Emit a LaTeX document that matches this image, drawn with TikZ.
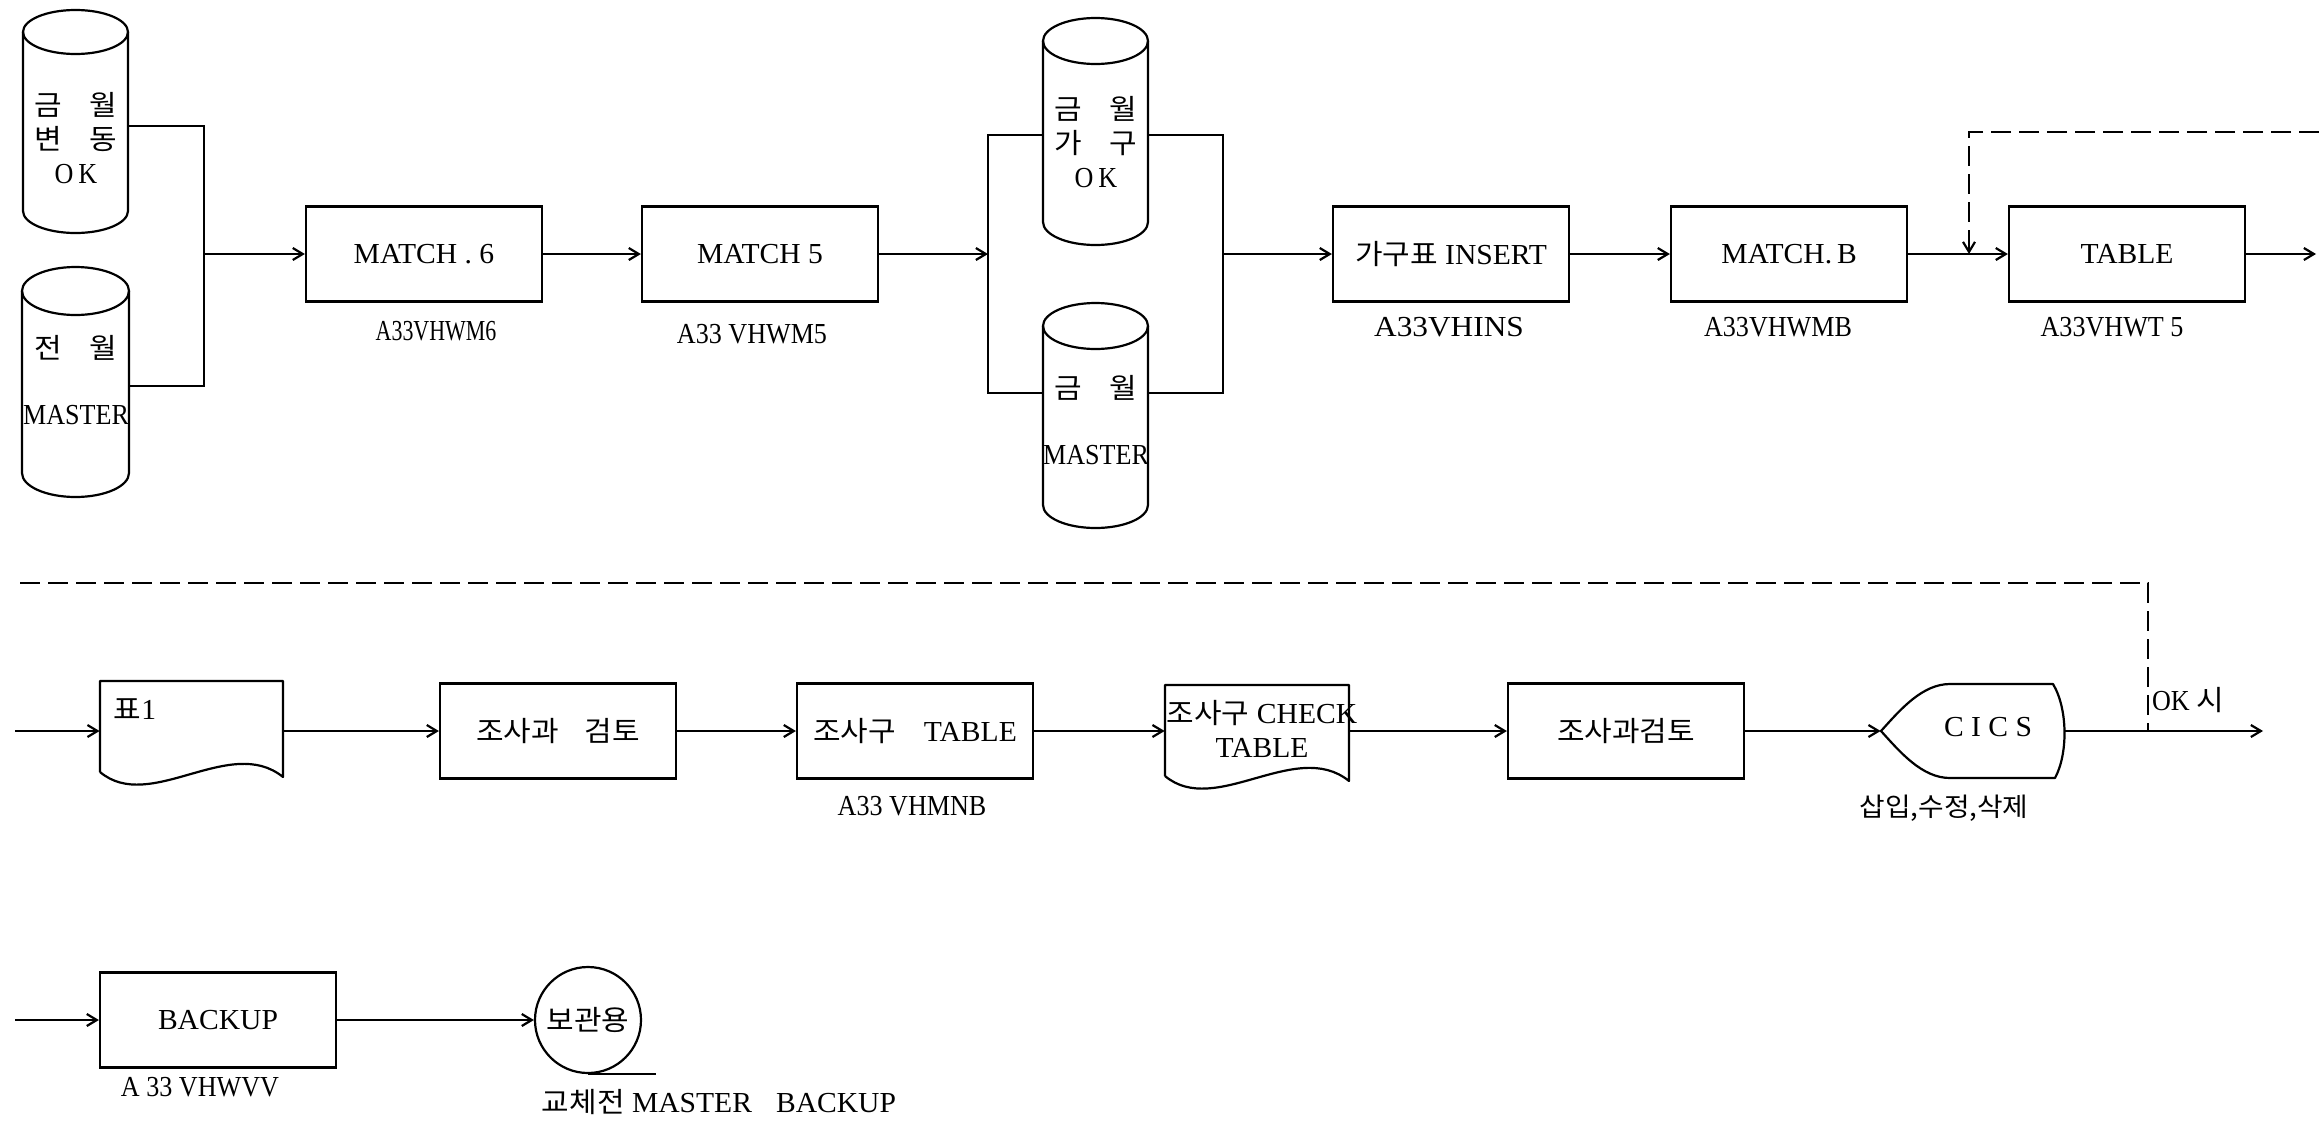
\documentclass[tikz,border=0pt]{standalone}
\usepackage{fontspec}
\usepackage{graphicx}
\setmainfont{Liberation Serif}[FakeStretch=1.02]
\newfontfamily\lblfont{Liberation Serif}[FakeStretch=0.9]
\newfontfamily\korfont{Noto Sans CJK KR}[FakeStretch=1.07]
\usetikzlibrary{arrows.meta,calc}
\newcommand\kor[1]{{\korfont\fontsize{14}{17}\selectfont #1}}
% cylinder outline: #1 left, #2 right, #3 top (arc peak), #4 bottom (arc low), #5 ellipse half-height (px)
\newcommand\drawcyl[5]{%
  \pgfmathsetmacro\myrx{(#2-#1)/4}%
  \pgfmathsetmacro\myry{#5/2}%
  \draw[ln] (#1,#3+#5) -- (#1,#4-#5) arc[start angle=180,end angle=360,x radius=\myrx pt,y radius=\myry pt]
     -- (#2,#3+#5) arc[start angle=0,end angle=180,x radius=\myrx pt,y radius=\myry pt];
  \draw[ln] (#1,#3+#5) arc[start angle=180,end angle=360,x radius=\myrx pt,y radius=\myry pt];
}
% document outline: #1 left, #2 right, #3 top, #4 left bottom y
\newcommand\drawdoc[4]{%
  \draw[ln,line join=round] (#1,#4) -- (#1,#3) -- (#2,#3) -- (#2,#4+5)
     .. controls (#2-53,#4-38) and (#1+50,#4+42) .. (#1,#4);
}
\begin{document}
\begin{tikzpicture}[x=0.5pt,y=-0.5pt,
  every node/.style={font=\fontsize{14.5}{17}\selectfont, inner sep=0pt},
  lbl/.style={font=\lblfont\fontsize{14.5}{17}\selectfont},
  ln/.style={line width=1.1pt},
  arr/.style={ln, -{Straight Barb[length=5pt,width=6pt]}},
  dsh/.style={ln, dash pattern=on 10pt off 4pt},
  proc/.style={draw, ln, minimum width=118pt, minimum height=47.5pt},
  ghost/.style 2 args={minimum width=#1, minimum height=#2},
  ctext/.style={align=center, font=\lblfont\fontsize{14.5}{17}\selectfont},
]
\fill[white] (0,0) rectangle (2319,1120);
\useasboundingbox (0,0) rectangle (2319,1120);

% ---------- row 1 ----------
\drawcyl{23}{128}{10}{233}{22}
\drawcyl{22}{129}{267}{497}{24}
\node[ghost={52.5pt}{111.5pt}] (c1) at (75.5,121.5) {};
\node[ghost={53.5pt}{115pt}] (c2) at (75.5,382) {};
\node[ctext] (t1) at (76,138) {\kor{금\hspace{14pt}월}\\\kor{변\hspace{14pt}동}\\O\,K};
\node[ctext] (t2) at (76,380.5) {\kor{전\hspace{14pt}월}\\[16pt]MASTER};

\coordinate (j1t) at (204,126);
\coordinate (j1b) at (204,386);
\coordinate (j1) at (204,254);
\draw[ln] (c1.east |- j1t) -- (j1t) -- (j1b) -- (c2.east |- j1b);

\node[proc] (m6) at (424,254) {MATCH . 6};
\node[proc] (m5) at (760,254) {MATCH 5};
\draw[arr] (j1) -- (m6.west);
\draw[arr] (m6.east) -- (m5.west);
\node[lbl] (l1) at (436,331) {\scalebox{0.84}[1]{A33VHWM6}};
\node[lbl] (l2) at (752,334) {A33 VHWM5};

\drawcyl{1043}{1148}{18}{245}{23}
\drawcyl{1043}{1148}{303}{528}{23}
\node[ghost={52.5pt}{113.5pt}] (c3) at (1095.5,131.5) {};
\node[ghost={52.5pt}{112.5pt}] (c4) at (1095.5,415.5) {};
\node[ctext] (t3) at (1096,142) {\kor{금\hspace{14pt}월}\\\kor{가\hspace{14pt}구}\\O\,K};
\node[ctext] (t4) at (1096,420) {\kor{금\hspace{14pt}월}\\[16pt]MASTER};

\coordinate (bl) at (988,254);
\coordinate (blt) at (988,135);
\coordinate (blb) at (988,393);
\coordinate (br) at (1223,254);
\coordinate (brt) at (1223,135);
\coordinate (brb) at (1223,393);
\draw[arr] (m5.east) -- (bl);
\draw[ln] (c3.west |- blt) -- (blt) -- (blb) -- (c4.west |- blb);
\draw[ln] (c3.east |- brt) -- (brt) -- (brb) -- (c4.east |- brb);

\node[proc] (ins) at (1451,254) {\kor{가구표} INSERT};
\node[proc] (mb) at (1789,254) {MATCH.\,B};
\node[proc] (tab) at (2127,254) {TABLE};
\draw[arr] (br) -- (ins.west);
\draw[arr] (ins.east) -- (mb.west);
\draw[arr] (mb.east) -- (tab.west);
\coordinate (tout) at (2316,254);
\draw[arr] (tab.east) -- (tout);
\node[lbl] (l3) at (1449,327) {\scalebox{1.2}[1]{A33VHINS}};
\node[lbl] (l4) at (1778,327) {A33VHWMB};
\node[lbl] (l5) at (2112,327) {A33VHWT 5};

\coordinate (dt1) at (2319,132);
\coordinate (dt2) at (1969,132);
\coordinate (dj) at (1969,254);
\draw[dsh,-{Straight Barb[length=5pt,width=6pt]}] (dt1) -- (dt2) -- (dj);

% ---------- row 2 ----------
\coordinate (db1) at (20,583);
\coordinate (db2) at (2148,583);
\coordinate (dbj) at (2148,731);
\draw[dsh] (db1) -- (db2) -- (dbj);

\drawdoc{100}{283}{681}{772}
\node[ghost={91.5pt}{47pt}] (p1) at (191.5,731) {};
\node (tp1) at (135,709) {\kor{표}1};
\coordinate (in2) at (15,731);
\draw[arr] (in2) -- (p1.west);

\node[proc] (r2a) at (558,731) {\kor{조사과\hspace{13pt}검토}};
\node[proc] (r2b) at (915,731) {\kor{조사구}\hspace{14pt}TABLE};
\draw[arr] (p1.east) -- (r2a.west);
\draw[arr] (r2a.east) -- (r2b.west);
\node[lbl] (l6) at (912,806) {A33 VHMNB};

\drawdoc{1165}{1349}{685}{776}
\node[ghost={92pt}{47pt}] (chk) at (1257,731) {};
\node[align=center] (tchk) at (1262,729) {\kor{조사구} CHECK\\TABLE};
\draw[arr] (r2b.east) -- (chk.west);

\node[proc] (r2c) at (1626,731) {\kor{조사과검토}};
\draw[arr] (chk.east) -- (r2c.west);

\draw[ln,line join=round] (1950,684) -- (2053,684) .. controls (2068,709) and (2068,754) .. (2055,778)
   -- (1950,778) .. controls (1922,778) and (1900,752) .. (1881,731)
   .. controls (1900,710) and (1922,684) .. (1950,684);
\node[ghost={92pt}{47pt}] (cics) at (1973,731) {};
\node (tcics) at (1988,727) {C I C S};
\draw[arr] (r2c.east) -- (cics.west);
\coordinate (out2) at (2263,731);
\draw[arr] (cics.east) -- (out2);
\node (l7) at (1944,808) {{\korfont\fontsize{13}{16}\selectfont 삽입,수정,삭제}};
\node[lbl] (l8) at (2188,700) {OK \kor{시}};

% ---------- row 3 ----------
\node[proc] (bk) at (218,1020) {BACKUP};
\coordinate (in3) at (15,1020);
\draw[arr] (in3) -- (bk.west);
\node[lbl] (l9) at (200,1087) {A 33 VHWVV};
\node[circle, draw, ln, minimum size=53pt] (circ) at (588,1020) {\kor{보관용}};
\draw[arr] (bk.east) -- (circ.west);
\coordinate (tape) at (656,1073);
\draw[ln] (circ.south) -- (circ.south -| tape);
\node (l10) at (719,1102) {\kor{교체전} MASTER\hspace{12pt}BACKUP};
\end{tikzpicture}
\end{document}
